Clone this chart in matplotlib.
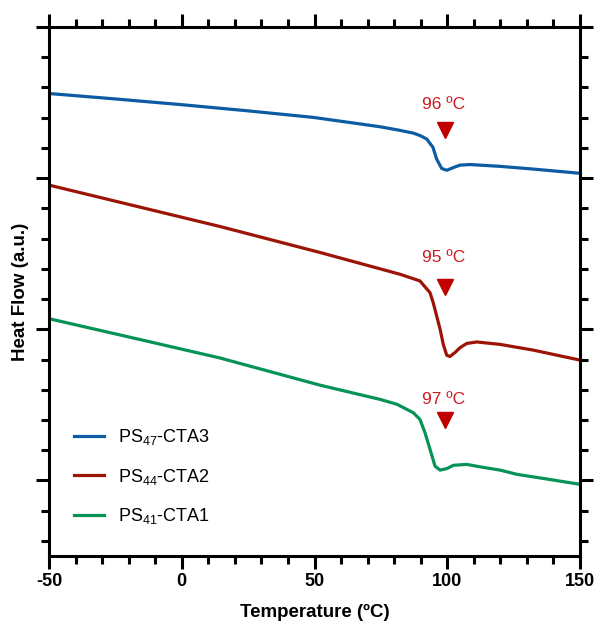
import matplotlib
matplotlib.use('Agg')
import matplotlib.pyplot as plt
from matplotlib.ticker import MultipleLocator, NullFormatter

plt.rcParams['font.family'] = ['Liberation Sans', 'DejaVu Sans']
plt.rcParams['mathtext.default'] = 'regular'
plt.rcParams['axes.unicode_minus'] = False

# DSC traces (temperature in ºC, heat flow in a.u.)
t_cta3 = [-50, -25, 0, 24.5, 49.5, 74.7, 82.2, 87.2, 90.0, 92.3, 94.6, 96.0,
          97.9, 99.8, 102.3, 104.8, 108.6, 119.9, 132.4, 150]
hf_cta3 = [12.80, 12.62, 12.43, 12.23, 12.01, 11.70, 11.58, 11.49, 11.40, 11.29,
           11.02, 10.63, 10.32, 10.26, 10.35, 10.43, 10.45, 10.39, 10.30, 10.16]

t_cta2 = [-50, -15.7, 14.4, 52.1, 82.2, 89.7, 93.5, 94.7, 96.0, 97.3,
          98.5, 99.8, 101.0, 102.9, 104.8, 107.3, 111.1, 119.9, 132.4, 150]
hf_cta2 = [9.77, 9.04, 8.40, 7.54, 6.82, 6.60, 6.21, 5.88, 5.44, 5.00,
           4.50, 4.14, 4.10, 4.23, 4.39, 4.53, 4.58, 4.50, 4.31, 3.98]

t_cta1 = [-50, -15.7, 14.4, 52.1, 74.7, 81.0, 87.2, 89.7, 91.6, 93.5,
          95.4, 97.3, 99.8, 102.3, 107.3, 112.3, 119.9, 126.3, 138.7, 150]
hf_cta1 = [5.35, 4.66, 4.05, 3.15, 2.68, 2.52, 2.24, 2.02, 1.58, 1.03,
           0.47, 0.34, 0.39, 0.50, 0.53, 0.45, 0.34, 0.20, 0.03, -0.13]

labels = [r'PS$_{47}$-CTA3', r'PS$_{44}$-CTA2', r'PS$_{41}$-CTA1']
colors = ['#0b5ca3', '#9b1405', '#079355']

# glass transition markers
tg_text = ['96 ºC', '95 ºC', '97 ºC']
tg_x = [99.2, 99.2, 99.2]
tg_marker_y = [11.58, 6.40, 2.00]
tg_text_y = [12.42, 7.37, 2.67]

fig = plt.figure(figsize=(6, 6.31), dpi=100)
ax = fig.add_axes([0.0817, 0.1189, 0.885, 0.8383])

series = [(t_cta3, hf_cta3), (t_cta2, hf_cta2), (t_cta1, hf_cta1)]
for (t, hf), lab, c in zip(series, labels, colors):
    ax.plot(t, hf, color=c, lw=2.3, label=lab, solid_joinstyle='round')

for x, my, ty, txt in zip(tg_x, tg_marker_y, tg_text_y, tg_text):
    ax.plot(x, my, marker='v', color='#c00000', markersize=11, linestyle='none')
    ax.text(x - 0.6, ty, txt, color='#cc1a22', fontsize=12.5, ha='center', va='center')

ax.set_xlim(-50, 150)
ax.set_ylim(-2.5, 15)
ax.xaxis.set_major_locator(MultipleLocator(50))
ax.xaxis.set_minor_locator(MultipleLocator(10))
ax.yaxis.set_major_locator(MultipleLocator(5))
ax.yaxis.set_minor_locator(MultipleLocator(1))
ax.yaxis.set_major_formatter(NullFormatter())

for s in ax.spines.values():
    s.set_linewidth(2.2)
ax.tick_params(which='both', direction='out', top=True, right=True, width=2.2)
ax.tick_params(which='major', length=9.5)
ax.tick_params(which='minor', length=6)
ax.tick_params(axis='x', which='major', labelsize=13, pad=3)
for lbl in ax.get_xticklabels():
    lbl.set_fontweight('bold')

ax.set_xlabel('Temperature (ºC)', fontsize=13.5, fontweight='bold', labelpad=10)
ax.set_ylabel('Heat Flow (a.u.)', fontsize=13.5, fontweight='bold')
ax.yaxis.set_label_coords(-0.038, 0.5)

ax.legend(loc='upper left', bbox_to_anchor=(0.047, 0.243), frameon=False,
          fontsize=13, handlelength=1.66, handletextpad=0.8, labelspacing=1.07,
          borderpad=0, borderaxespad=0)

fig.savefig('out.png', dpi=100)
